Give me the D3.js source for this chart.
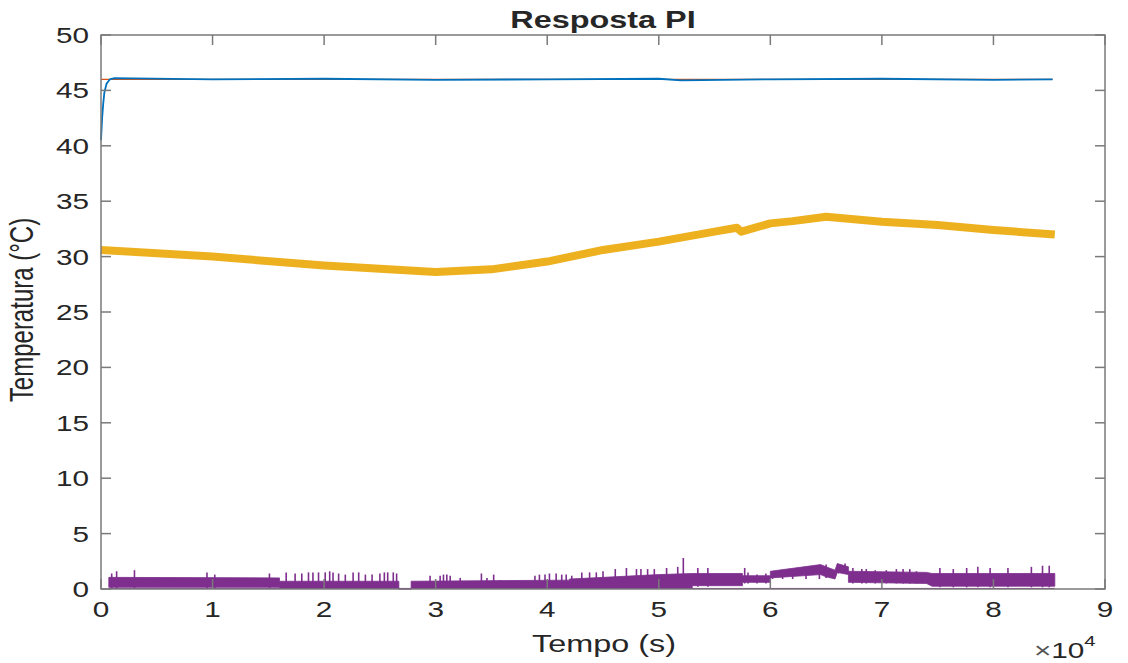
<!DOCTYPE html>
<html><head><meta charset="utf-8">
<script src="https://cdn.jsdelivr.net/npm/d3@7"></script>
<style>body{margin:0;background:#fff}svg{display:block}text{font-family:"Liberation Sans",Arial,sans-serif}</style>
</head><body><svg id="c" width="1128" height="663"></svg>
<script>
// ---------- data (time in seconds, temperature in °C) ----------
const xTicks = [0,1,2,3,4,5,6,7,8,9];           // ×10^4 s
const yTicks = [0,5,10,15,20,25,30,35,40,45,50];

// setpoint (orange)
const spT = [0, 85300];
const spV = [46, 46];

// process temperature (blue)
const blueT = [0, 100, 200, 300, 500, 800, 1200, 10000, 20000, 30000, 40000, 50000, 52000, 60000, 70000, 80000, 85300];
const blueV = [40.5, 42.5, 43.8, 44.8, 45.6, 46.0, 46.1, 46.0, 46.05, 45.95, 46.0, 46.05, 45.9, 46.0, 46.05, 45.95, 46.0];

// ambient temperature (yellow), centre of the noisy band
const ambT = [0, 10000, 20000, 30000, 35000, 40000, 45000, 50000, 55000, 57000, 57400, 60000, 62000, 65000, 70000, 75000, 80000, 85500];
const ambV = [30.6, 30.0, 29.2, 28.6, 28.85, 29.55, 30.6, 31.35, 32.25, 32.6, 32.25, 33.0, 33.2, 33.6, 33.15, 32.85, 32.4, 32.0];

// control signal (purple) – dense band envelope
const ctlT  = [700, 16000, 16001, 26700, 26701, 27800, 27801, 42000, 42001, 50000, 53000, 53001, 57500, 57501, 60000, 60001, 64500, 65000, 65800, 66000, 67000, 67001, 74000, 74500, 85500];
const ctlLo = [0.15, 0.15, 0.1, 0.1, 0, 0, 0.1, 0.1, 0.05, 0.05, 0.1, 0.3, 0.3, 0.6, 0.6, 1.0, 1.3, 1.1, 0.9, 1.5, 1.3, 0.6, 0.5, 0.25, 0.25];
const ctlHi = [1.05, 1.0, 0.7, 0.7, 0, 0, 0.7, 0.8, 0.9, 1.3, 1.4, 1.4, 1.4, 1.2, 1.2, 1.6, 2.2, 2.0, 1.7, 2.3, 2.0, 1.6, 1.5, 1.4, 1.4];

// control signal spikes
const spikeT = [960,1400,3000,9500,10200,15100,16600,17400,18000,18600,19000,19500,20100,20500,20800,21300,21900,22600,23100,23700,24300,25000,25400,25700,26200,26500,
  29500,30400,30700,31000,31300,32200,34100,34600,35200,35800,38900,39300,39800,40200,40800,41300,41700,42200,43100,43800,44400,45000,46100,47100,48000,48400,49000,49600,50700,51700,52200,53500,54400,57700,
  58000,58800,59600,60200,61100,62000,63200,64400,65000,66100,66700,67400,68200,68600,69400,70400,71300,71900,72500,73100,75200,76400,77600,78600,79700,81300,83400,84400,85000];
const spikeV = [1.4,1.6,1.7,1.5,1.3,1.4,1.5,1.4,1.4,1.5,1.5,1.5,1.5,1.6,1.5,1.4,1.3,1.5,1.5,1.3,1.3,1.4,1.5,1.5,1.5,1.4,
  1.2,1.2,1.3,1.3,1.2,1.0,1.4,1.0,1.3,0.8,1.2,1.3,1.3,1.4,1.4,1.3,1.3,1.2,1.5,1.5,1.5,1.6,1.8,1.9,1.8,1.8,1.8,1.8,1.9,2.0,2.8,1.9,1.9,1.9,
  1.5,1.3,1.4,1.5,1.6,1.6,1.9,2.1,2.2,2.2,2.3,1.9,1.8,1.8,1.7,1.7,1.8,1.8,1.8,1.6,1.9,1.8,1.9,2.0,1.9,1.9,2.0,2.1,2.1];

// ---------- layout ----------
const svg = d3.select("#c");
const L = 101, R = 1105, T = 35, B = 589;
const x = d3.scaleLinear().domain([0, 90000]).range([L, R]);
const y = d3.scaleLinear().domain([0, 50]).range([B, T]);
const SX = 1.35;
const axisCol = "#7a7a7a", textCol = "#262626";

// ---------- series ----------
const lineGen = d3.line().x(d => x(d[0])).y(d => y(d[1]));
const zip = (a, b) => a.map((v, i) => [v, b[i]]);

// purple band
const ctlData = ctlT.map((t, i) => ({t, lo: ctlLo[i], hi: ctlHi[i]}));
svg.append("path").datum(ctlData)
  .attr("d", d3.area().x(d => x(d.t)).y0(d => y(d.lo)).y1(d => y(d.hi)))
  .attr("fill", "#7E2F8E").attr("stroke", "#7E2F8E").attr("stroke-width", 0.8);
svg.append("line").attr("x1", x(700)).attr("x2", x(85500)).attr("y1", y(0.05)).attr("y2", y(0.05))
  .attr("stroke", "#7E2F8E").attr("stroke-width", 1);
const spikeLo = t => {
  let i = d3.bisectRight(ctlT, t) - 1; i = Math.max(0, Math.min(i, ctlT.length - 1));
  return ctlLo[i];
};
svg.append("g").selectAll("line").data(zip(spikeT, spikeV)).join("line")
  .attr("x1", d => x(d[0])).attr("x2", d => x(d[0]))
  .attr("y1", d => y(Math.max(0, spikeLo(d[0]) - 0.1))).attr("y2", d => y(d[1]))
  .attr("stroke", "#7E2F8E").attr("stroke-width", 1.6);

// yellow ambient band
svg.append("path").datum(zip(ambT, ambV)).attr("d", lineGen)
  .attr("fill", "none").attr("stroke", "#EDB120").attr("stroke-width", 8).attr("stroke-linejoin", "round");

// setpoint orange
svg.append("path").datum(zip(spT, spV)).attr("d", lineGen)
  .attr("fill", "none").attr("stroke", "#D95319").attr("stroke-width", 1.2);
// blue response
svg.append("path").datum(zip(blueT, blueV)).attr("d", lineGen)
  .attr("fill", "none").attr("stroke", "#0072BD").attr("stroke-width", 1.8);

// ---------- axes (MATLAB box style) ----------
const tickLen = 10;
const gA = svg.append("g").attr("stroke", axisCol).attr("stroke-width", 1.5);
gA.append("rect").attr("x", L).attr("y", T).attr("width", R - L).attr("height", B - T).attr("fill", "none");
xTicks.forEach(v => {
  const px = x(v * 1e4);
  gA.append("line").attr("x1", px).attr("x2", px).attr("y1", B).attr("y2", B - tickLen);
  gA.append("line").attr("x1", px).attr("x2", px).attr("y1", T).attr("y2", T + tickLen);
});
yTicks.forEach(v => {
  const py = y(v);
  gA.append("line").attr("x1", L).attr("x2", L + tickLen).attr("y1", py).attr("y2", py);
  gA.append("line").attr("x1", R).attr("x2", R - tickLen).attr("y1", py).attr("y2", py);
});

function txt(s, px, py, size, anchor, opts = {}) {
  const t = svg.append("text").attr("transform", `translate(${px},${py}) ${opts.rot ? "rotate(-90) scale(1," + SX + ")" : "scale(" + SX + ",1)"}`)
    .attr("font-size", size).attr("fill", textCol).attr("text-anchor", anchor)
    .attr("font-weight", opts.bold ? "bold" : "normal");
  t.text(s);
  return t;
}
xTicks.forEach(v => txt(String(v), x(v * 1e4), 617, 22, "middle"));
yTicks.forEach(v => txt(String(v), 89, y(v) + 8, 22, "end"));

txt("Resposta PI", 603, 28, 24, "middle", {bold: true});
txt("Tempo (s)", 604, 652, 24, "middle");
txt("Temperatura (°C)", 33, 310, 24, "middle", {rot: true});

// exponent label
const ex = svg.append("text").attr("transform", `translate(1034,658) scale(${SX},1)`)
  .attr("font-size", 22).attr("fill", textCol);
ex.append("tspan").attr("fill", "#555").text("×");
ex.append("tspan").text("10");
ex.append("tspan").attr("font-size", 15).attr("dy", -12).text("4");
</script></body></html>
